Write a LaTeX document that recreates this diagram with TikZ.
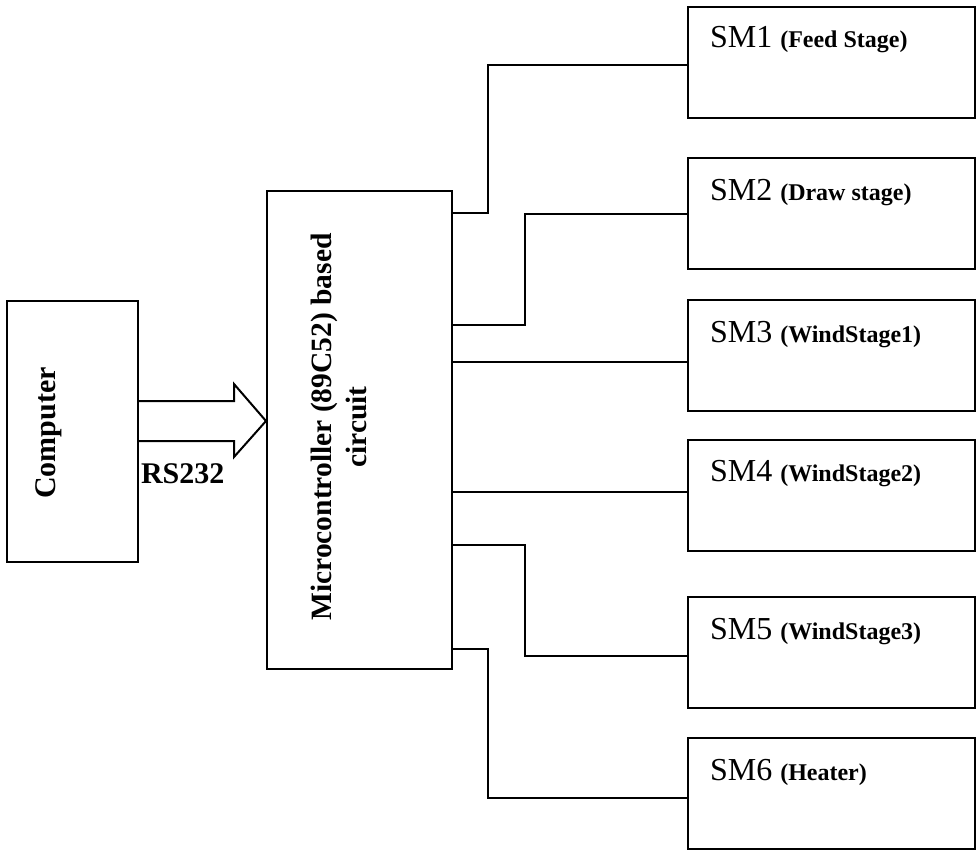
\documentclass[tikz,border=0pt]{standalone}
\usepackage{fontspec}
\setmainfont{Liberation Serif}
\usetikzlibrary{calc}
\begin{document}
\begin{tikzpicture}[x=1pt,y=-1pt,
  every path/.style={line width=2pt},
  box/.style={draw, line width=2pt, rectangle, inner sep=0pt},
  smbox/.style={box, minimum width=287pt, minimum height=111pt},
  smtext/.style={anchor=base west, inner sep=0pt, font=\fontsize{32}{36}\selectfont},
  bigbold/.style={inner sep=0pt, font=\fontsize{30}{35}\selectfont\bfseries},
  wire/.style={draw, line width=2pt}
]
\useasboundingbox (0,0) rectangle (976,851);

% main blocks
\node[box, minimum width=131pt, minimum height=261pt] (comp) at (72.5,431.5) {};
\node[bigbold, rotate=90] (comptext) at (48.5,433) {Computer};

\node[box, minimum width=185pt, minimum height=478pt] (mc) at (359.5,430) {};
\node[inner sep=0pt, rotate=90, align=center, font=\fontsize{29.5}{35}\selectfont\bfseries] (mctext) at (338.5,427) {Microcontroller (89C52) based\\circuit};

% stepper motor blocks
\node[smbox] (sm1) at (831.5,62.5) {};
\node[smbox] (sm2) at (831.5,213.5) {};
\node[smbox] (sm3) at (831.5,355.5) {};
\node[smbox] (sm4) at (831.5,495) {};
\node[smbox] (sm5) at (831.5,652.5) {};
\node[smbox] (sm6) at (831.5,793.5) {};

\node[smtext] (sm1t) at ($(sm1.north west)+(22,42)$) {SM1 {\fontsize{24}{28}\selectfont\bfseries (Feed Stage)}};
\node[smtext] (sm2t) at ($(sm2.north west)+(22,43)$) {SM2 {\fontsize{24}{28}\selectfont\bfseries (Draw stage)}};
\node[smtext] (sm3t) at ($(sm3.north west)+(22,43)$) {SM3 {\fontsize{24}{28}\selectfont\bfseries (WindStage1)}};
\node[smtext] (sm4t) at ($(sm4.north west)+(22,43)$) {SM4 {\fontsize{24}{28}\selectfont\bfseries (WindStage2)}};
\node[smtext] (sm5t) at ($(sm5.north west)+(22,43)$) {SM5 {\fontsize{24}{28}\selectfont\bfseries (WindStage3)}};
\node[smtext] (sm6t) at ($(sm6.north west)+(22,43)$) {SM6 {\fontsize{24}{28}\selectfont\bfseries (Heater)}};

% RS232 wide arrow
\coordinate (tip) at ($(mc.west)+(0,-9)$);
\draw[line width=2pt, line join=miter]
  ($(tip -| comp.east)+(0,-20)$) -- ($(tip)+(-32,-20)$) -- ($(tip)+(-32,-37)$)
  -- (tip) -- ($(tip)+(-32,36)$) -- ($(tip)+(-32,20)$) -- ($(tip -| comp.east)+(0,20)$);
\node[bigbold, anchor=base west] (rs) at ($(comp.east)+(1,51.5)$) {RS232};

% connectors
\coordinate (c1) at ($(mc.north east)+(0,23)$);
\coordinate (c2) at ($(mc.north east)+(0,135)$);
\coordinate (c3) at ($(mc.north east)+(0,172)$);
\coordinate (c4) at ($(mc.north east)+(0,302)$);
\coordinate (c5) at ($(mc.north east)+(0,355)$);
\coordinate (c6) at ($(mc.north east)+(0,459)$);

\draw[wire] (c1) -- ++(35,0) |- ($(sm1.west)+(0,2.5)$);
\draw[wire] (c2) -- ++(72,0) |- (sm2.west);
\draw[wire] (c3) -- (c3 -| sm3.west);
\draw[wire] (c4) -- (c4 -| sm4.west);
\draw[wire] (c5) -- ++(72,0) |- ($(sm5.west)+(0,3.5)$);
\draw[wire] (c6) -- ++(35,0) |- ($(sm6.west)+(0,4.5)$);
\end{tikzpicture}
\end{document}
